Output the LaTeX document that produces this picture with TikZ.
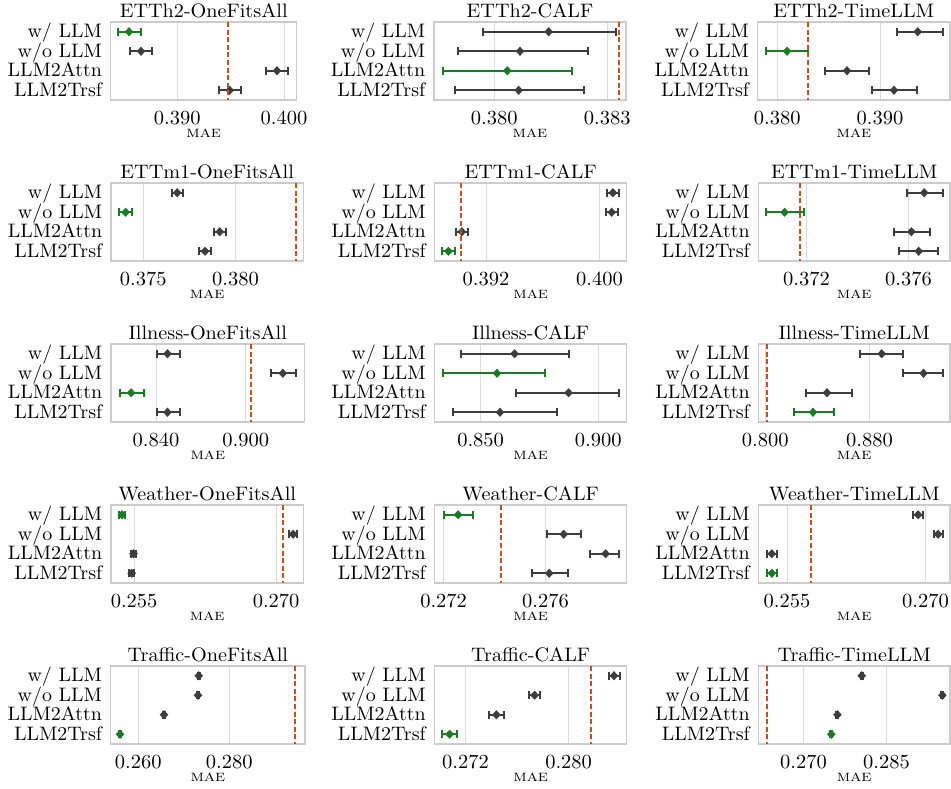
\documentclass[tikz,border=0pt]{standalone}
\usepackage{graphicx}
\definecolor{dg}{HTML}{3D3D3D}
\definecolor{gn}{HTML}{1B7A24}
\definecolor{rd}{HTML}{C8501E}
\definecolor{gridc}{HTML}{DCDCDC}
\definecolor{framec}{HTML}{CCCCCC}
\tikzset{
 gridline/.style={draw=gridc, line width=0.9pt},
 framebox/.style={draw=framec, line width=1.2pt},
 refline/.style={draw=rd, line width=1.8pt, dash pattern=on 5pt off 2.6pt},
 ticklab/.style={anchor=base, inner sep=0pt},
 ylab/.style={anchor=base east, inner sep=0pt},
 ptitle/.style={anchor=base, inner sep=0pt},
 xlab/.style={anchor=base, inner sep=0pt},
 ebar/.style={line width=2pt},
}
\newcommand\sbtick[1]{\scalebox{2.05}[2.0]{#1}}
\newcommand\sbylab[1]{\scalebox{2.0}[1.95]{#1}}
\newcommand\sbtitle[1]{\scalebox{2.02}[1.95]{#1}}
\newcommand\sbxlab[1]{\scalebox{1.8}[1.6]{\textsc{#1}}}
% #1 id, #2 L, #3 R, #4 T, #5 title, #6 ticks
\newcommand\mypanel[6]{%
 \foreach \tx/\tl [count=\k] in {#6} {%
   \draw[gridline] (\tx,#4) -- (\tx,#4+78);
   \node[ticklab] (tick#1\k) at (\tx,#4+102) {\sbtick{\tl}};
 }
 \draw[framebox] (#2,#4) rectangle (#3,#4+78);
 \node[ptitle] (title#1) at ({(#2+#3)/2},#4-4.7) {\sbtitle{#5}};
 \node[xlab] (xl#1) at ({(#2+#3)/2},#4+115.5) {\sbxlab{mae}};
 \foreach \lab [count=\k from 0] in {w/ LLM,w/o LLM,LLM2Attn,LLM2Trsf} {%
   \node[ylab] (yl#1\k) at (#2-8.5,#4+9.75+19.5*\k+6) {\sbylab{\lab}};
 }
}
% #1 T, #2 index, #3 centre, #4 lo, #5 hi, #6 colour
\newcommand\mypt[6]{%
 \pgfmathsetmacro\yy{#1+9.75+19.5*#2}%
 \draw[ebar,#6] (#4,\yy) -- (#5,\yy);
 \draw[ebar,#6] (#4,\yy-4.2) -- (#4,\yy+4.2);
 \draw[ebar,#6] (#5,\yy-4.2) -- (#5,\yy+4.2);
 \fill[#6] (#3-4.3,\yy) -- (#3,\yy-4.6) -- (#3+4.3,\yy) -- (#3,\yy+4.6) -- cycle;
}
\newcommand\myref[2]{\draw[refline] (#2,#1) -- (#2,#1+78);}
\begin{document}
\begin{tikzpicture}[x=1pt,y=-1pt]
\useasboundingbox (0,0) rectangle (951,788);
% ---------- Row 1
\mypanel{a}{110.7}{296.7}{22}{ETTh2-OneFitsAll}{177.3/0.390,284/0.400}
\mypt{22}{0}{129}{118.3}{140.7}{gn}
\mypt{22}{1}{141}{130}{152}{dg}
\mypt{22}{2}{277}{266}{288}{dg}
\mypt{22}{3}{229.7}{219}{240.7}{dg}
\myref{22}{228}
\mypanel{b}{434}{626}{22}{ETTh2-CALF}{494.3/0.380,607.3/0.383}
\mypt{22}{0}{548.7}{483}{616}{dg}
\mypt{22}{1}{520}{457.7}{587.7}{dg}
\mypt{22}{2}{507.3}{442.7}{571.7}{gn}
\mypt{22}{3}{518.7}{455.3}{584}{dg}
\myref{22}{619}
\mypanel{c}{757.7}{950}{22}{ETTh2-TimeLLM}{777.3/0.380,880/0.390}
\mypt{22}{0}{917.7}{897}{943}{dg}
\mypt{22}{1}{787}{766.3}{808.3}{gn}
\mypt{22}{2}{847}{825}{868.7}{dg}
\mypt{22}{3}{894}{872}{917}{dg}
\myref{22}{808}
% ---------- Row 2
\mypanel{d}{111}{303.4}{183}{ETTm1-OneFitsAll}{143.2/0.375,235.4/0.380}
\mypt{183}{0}{177.2}{171.7}{183.3}{dg}
\mypt{183}{1}{125.6}{119}{131.7}{gn}
\mypt{183}{2}{219.7}{213.6}{225.7}{dg}
\mypt{183}{3}{205.1}{199}{211}{dg}
\myref{183}{296}
\mypanel{e}{434.5}{626.8}{183}{ETTm1-CALF}{486/0.392,599.5/0.400}
\mypt{183}{0}{612.9}{606.8}{619}{dg}
\mypt{183}{1}{611.7}{605.6}{617.7}{dg}
\mypt{183}{2}{461.8}{455.7}{468.4}{dg}
\mypt{183}{3}{448.4}{442.4}{455}{gn}
\myref{183}{461}
\mypanel{f}{758.5}{950}{183}{ETTm1-TimeLLM}{806.4/0.372,908.4/0.376}
\mypt{183}{0}{924.2}{906.6}{943}{dg}
\mypt{183}{1}{784.6}{765.8}{804}{gn}
\mypt{183}{2}{911.4}{893.8}{929.6}{dg}
\mypt{183}{3}{918.7}{899.3}{938}{dg}
\myref{183}{800}
% ---------- Row 3
\mypanel{g}{111}{304.6}{344}{Illness-OneFitsAll}{156/0.840,245.8/0.900}
\mypt{344}{0}{167.5}{156.6}{180.2}{dg}
\mypt{344}{1}{282.8}{270.6}{296.1}{dg}
\mypt{344}{2}{131.1}{119.5}{143.8}{gn}
\mypt{344}{3}{167.5}{156.6}{180.2}{dg}
\myref{344}{251}
\mypanel{h}{434.5}{626.8}{344}{Illness-CALF}{480.6/0.850,598.3/0.900}
\mypt{344}{0}{514.6}{461.2}{569.2}{dg}
\mypt{344}{1}{497}{443}{545}{gn}
\mypt{344}{2}{568.6}{515.8}{619}{dg}
\mypt{344}{3}{500}{452.7}{557}{dg}
\mypanel{i}{758.5}{950}{344}{Illness-TimeLLM}{765.2/0.800,869.5/0.880}
\mypt{344}{0}{881.7}{860.4}{903}{dg}
\mypt{344}{1}{923.5}{903}{943}{dg}
\mypt{344}{2}{827}{806.4}{852}{dg}
\mypt{344}{3}{813}{793.7}{834.3}{gn}
\myref{344}{767}
% ---------- Row 4
\mypanel{j}{111}{303.4}{505}{Weather-OneFitsAll}{134.1/0.255,276.1/0.270}
\mypt{505}{0}{122}{119}{125}{gn}
\mypt{505}{1}{293.1}{289.4}{296.7}{dg}
\mypt{505}{2}{133.5}{131}{136}{dg}
\mypt{505}{3}{131.7}{129.2}{134.2}{dg}
\myref{505}{283}
\mypanel{k}{434.5}{626.8}{505}{Weather-CALF}{443.6/0.272,545.5/0.276}
\mypt{505}{0}{458.1}{443.6}{473.3}{gn}
\mypt{505}{1}{563.7}{546.7}{581.3}{dg}
\mypt{505}{2}{605.6}{590.4}{619}{dg}
\mypt{505}{3}{549.2}{532.2}{568}{dg}
\myref{505}{501}
\mypanel{l}{758.5}{950}{505}{Weather-TimeLLM}{787/0.255,925.4/0.270}
\mypt{505}{0}{918.1}{913.2}{923}{dg}
\mypt{505}{1}{938.1}{933.9}{943}{dg}
\mypt{505}{2}{771.8}{767}{777.3}{dg}
\mypt{505}{3}{771.8}{767}{777.3}{gn}
\myref{505}{811}
% ---------- Row 5
\mypanel{m}{110.7}{305}{666}{Traffic-OneFitsAll}{138.3/0.260,229.3/0.280}
\mypt{666}{0}{198.7}{197.7}{199.7}{dg}
\mypt{666}{1}{198}{197}{199}{dg}
\mypt{666}{2}{164}{163}{165}{dg}
\mypt{666}{3}{120}{119}{121}{gn}
\myref{666}{295}
\mypanel{n}{434.5}{626.8}{666}{Traffic-CALF}{465.4/0.272,568.6/0.280}
\mypt{666}{0}{614}{608.6}{619.5}{dg}
\mypt{666}{1}{534.6}{529}{540}{dg}
\mypt{666}{2}{496.4}{489}{504}{dg}
\mypt{666}{3}{449.6}{442.4}{457}{gn}
\myref{666}{591}
\mypanel{o}{758.5}{950}{666}{Traffic-TimeLLM}{803.4/0.270,886.5/0.285}
\mypt{666}{0}{861.7}{860.7}{862.7}{dg}
\mypt{666}{1}{942.4}{941.4}{943.4}{dg}
\mypt{666}{2}{837.4}{836.4}{838.4}{dg}
\mypt{666}{3}{831.3}{830.3}{832.3}{gn}
\myref{666}{767}
\end{tikzpicture}
\end{document}
